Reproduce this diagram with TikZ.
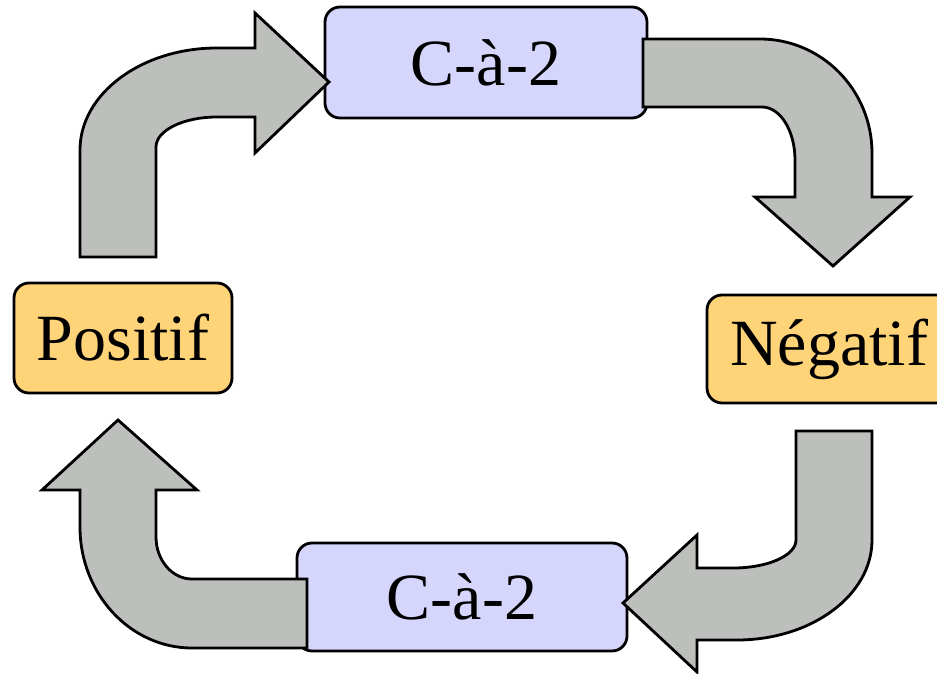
\documentclass[tikz,border=0pt]{standalone}
\usepackage{fontspec}
\setmainfont{Liberation Serif}
\definecolor{boxblue}{HTML}{D6D6FD}
\definecolor{boxorange}{HTML}{FFD479}
\definecolor{arrowgray}{HTML}{BDBFBC}
\tikzset{
  cbox/.style={draw=black, line width=2.8pt, rounded corners=15pt, fill=boxblue,
    inner sep=0pt, font=\fontsize{66}{79}\selectfont},
  sbox/.style={cbox, fill=boxorange},
  blockarrow/.style={draw=black, line width=2.8pt, fill=arrowgray, line join=miter}
}
\begin{document}
\begin{tikzpicture}[x=1pt, y=-1pt]
\useasboundingbox (0,0) rectangle (937,674);
% boxes
\node[cbox, minimum width=322pt, minimum height=111pt] (top) at (486,62.5) {C-à-2};
\node[sbox, minimum width=218pt, minimum height=110pt] (pos) at (123,338) {Positif};
\node[sbox, minimum width=244pt, minimum height=108pt] (neg) at (829,349) {Négatif};
\node[cbox, minimum width=330pt, minimum height=108pt] (bot) at (462,597) {C-à-2};
% arrow Positif -> top C-à-2
\draw[blockarrow] (80,257) -- (156,257) -- (156,147)
  .. controls (156,130.4) and (183.3,117) .. (217,117)
  -- (255,117) -- (255,153) -- (329,82) -- (255,13) -- (255,48) -- (217,48)
  .. controls (141.4,48) and (80,93.7) .. (80,150) -- cycle;
% arrow top C-à-2 -> Négatif
\draw[blockarrow] (643,39) -- (643,107) -- (762,107)
  .. controls (780.2,107) and (795,130.7) .. (795,160)
  -- (795,197) -- (755,197) -- (833,266) -- (910,197) -- (872,197) -- (872,153)
  .. controls (872,90.1) and (821.8,39) .. (760,39) -- cycle;
% arrow Négatif -> bottom C-à-2
\draw[blockarrow] (796,431) -- (872,431) -- (872,540)
  .. controls (872,595.2) and (811.5,640) .. (737,640)
  -- (697,640) -- (697,672) -- (623,603) -- (697,535) -- (697,568) -- (733,568)
  .. controls (767.8,568) and (796,555.5) .. (796,540) -- cycle;
% arrow bottom C-à-2 -> Positif
\draw[blockarrow] (307,579) -- (307,648) -- (192,648)
  .. controls (130.2,648) and (80,593.8) .. (80,527)
  -- (80,490) -- (42,490) -- (118,420) -- (197,490) -- (156,490) -- (156,537)
  .. controls (156,560.2) and (172.1,579) .. (192,579) -- cycle;
\end{tikzpicture}
\end{document}
